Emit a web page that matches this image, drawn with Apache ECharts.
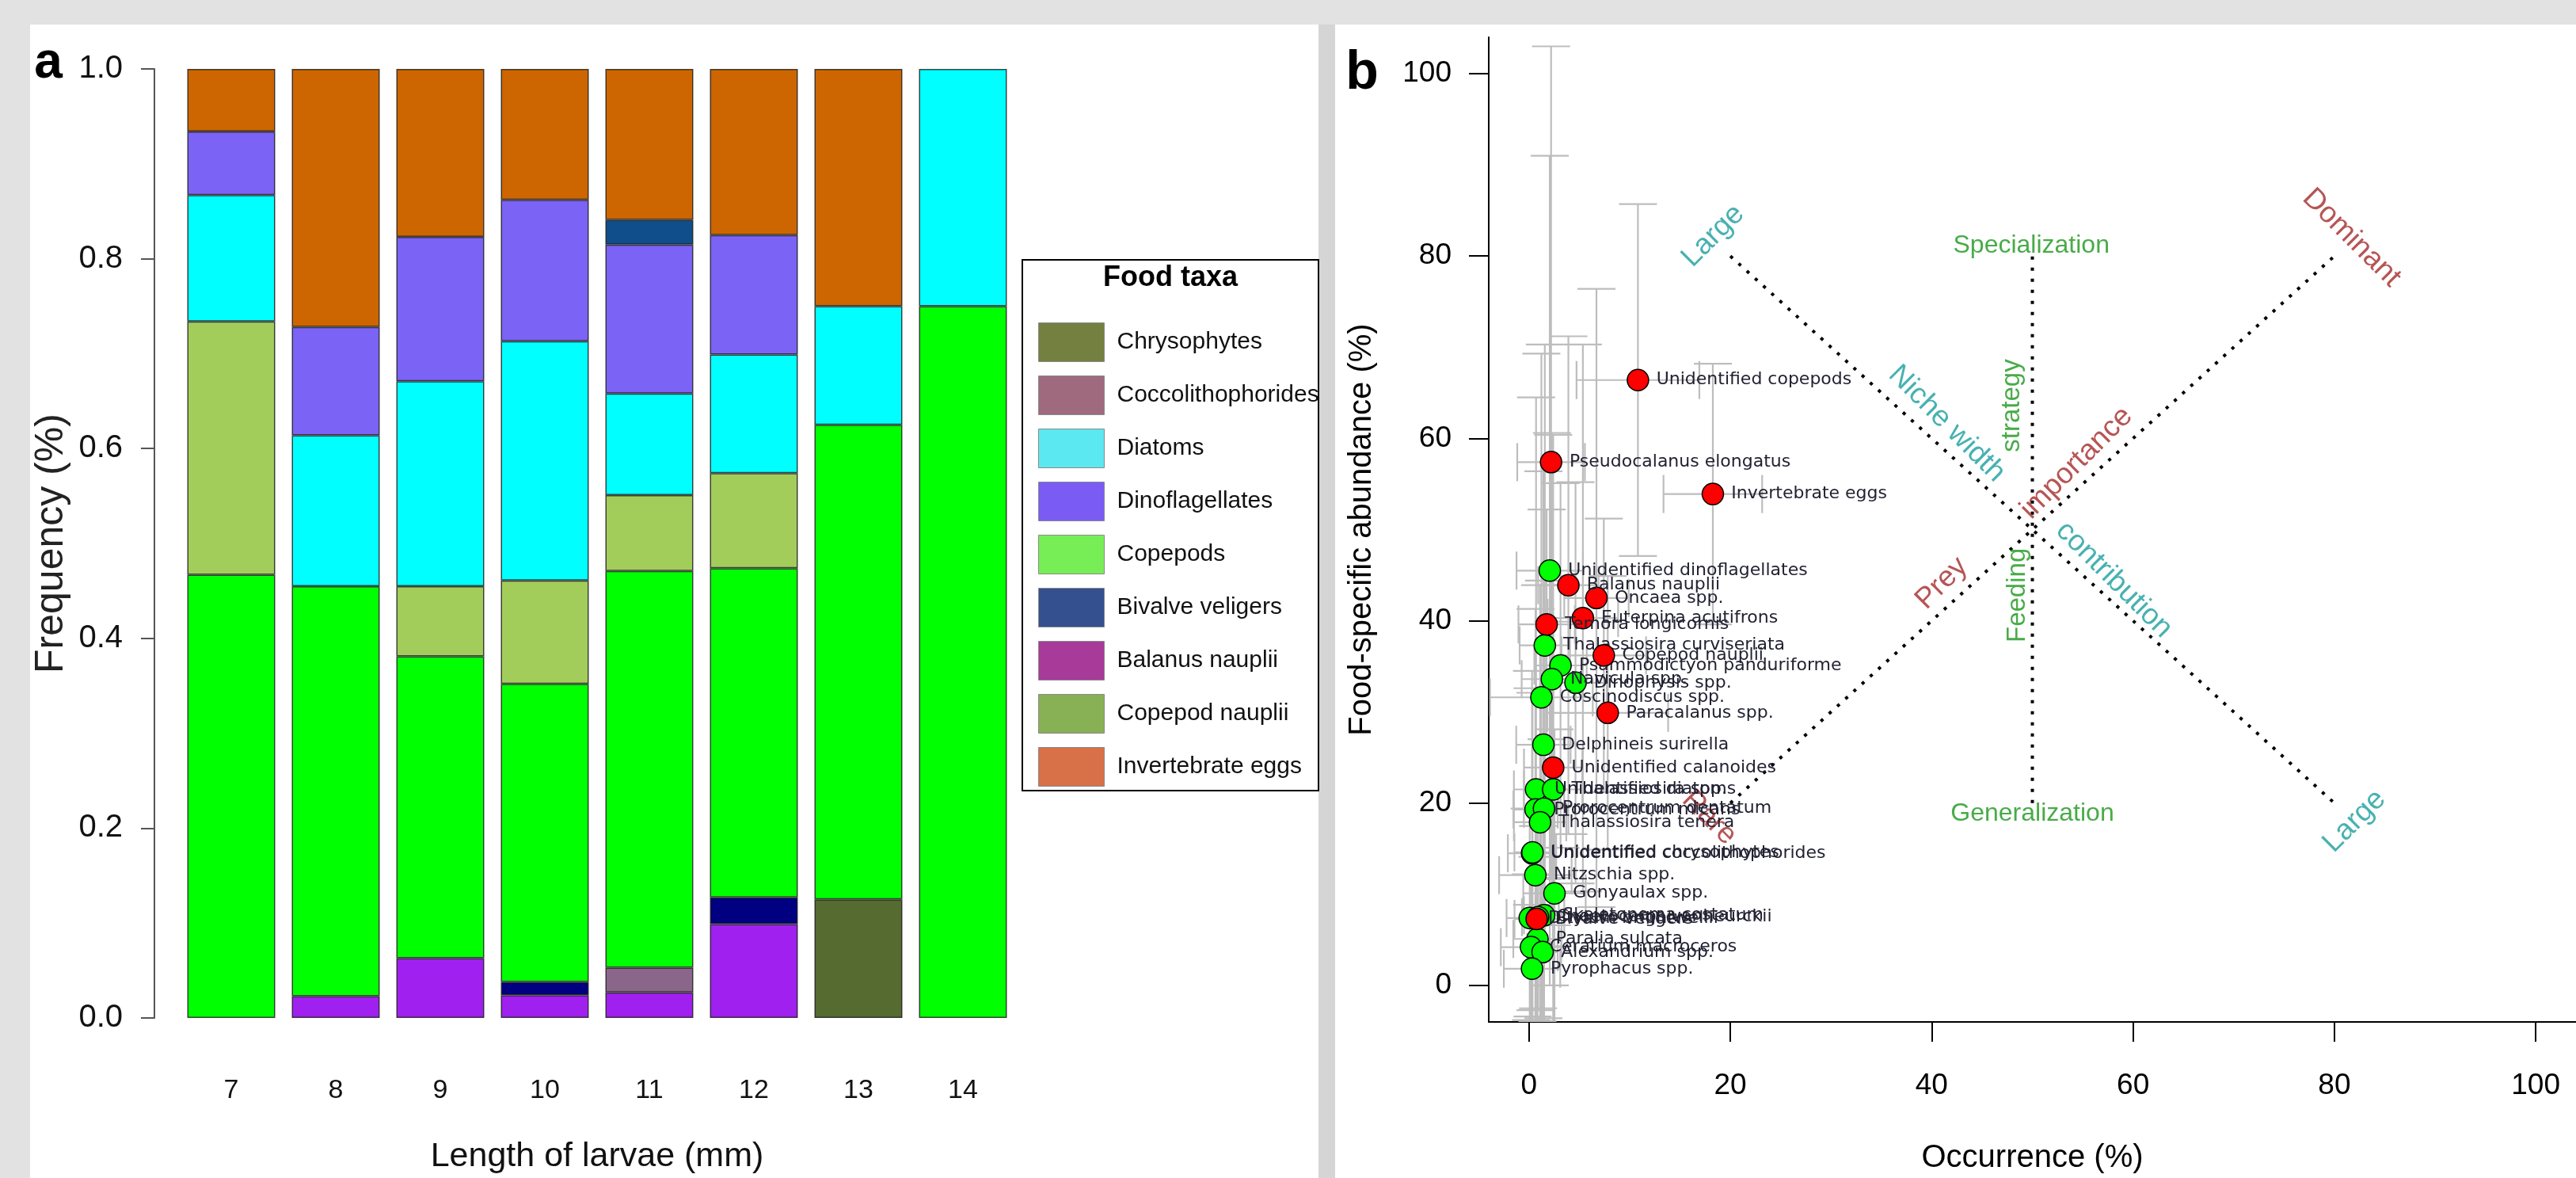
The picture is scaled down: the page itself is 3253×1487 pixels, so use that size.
<!DOCTYPE html>
<html>
<head>
<meta charset="utf-8">
<title>Larval diet</title>
<script src="https://cdn.jsdelivr.net/npm/echarts/dist/echarts.min.js"></script>
<style>
  html, body { margin: 0; padding: 0; background: #e2e2e2; }
  #page { position: relative; width: 3253px; height: 1487px; overflow: hidden; }
  .panel { position: absolute; background: #fff; }
  #chart { position: absolute; left: 0; top: 0; width: 3253px; height: 1487px; }
</style>
</head>
<body>
<div id="page">
  <div class="panel" style="left:38px;top:31px;width:1627px;height:1456px"></div>
  <div style="position:absolute;left:1665px;top:31px;width:21px;height:1456px;background:#d5d5d5"></div>
  <div class="panel" style="left:1686px;top:31px;width:1567px;height:1456px"></div>
  <div id="chart"></div>
</div>
<script>
// ---- panel a : diet frequency by larval length (stacked from the bottom up)
const lengths = ['7', '8', '9', '10', '11', '12', '13', '14']
const balanusNauplii = [0, 0.023, 0.063, 0.024, 0.027, 0.099, 0, 0]
const chrysophytes = [0, 0, 0, 0, 0, 0, 0.125, 0]
const coccolithophorides = [0, 0, 0, 0, 0.026, 0, 0, 0]
const bivalveVeligers = [0, 0, 0, 0.014, 0, 0.028, 0, 0]
const copepods = [0.467, 0.432, 0.318, 0.314, 0.418, 0.347, 0.5, 0.75]
const copepodNauplii = [0.267, 0, 0.074, 0.109, 0.080, 0.100, 0, 0]
const diatoms = [0.133, 0.159, 0.216, 0.252, 0.107, 0.125, 0.125, 0.25]
const dinoflagellates = [0.067, 0.114, 0.152, 0.149, 0.157, 0.126, 0, 0]
const otherPrey = [0, 0, 0, 0, 0.026, 0, 0, 0]
const invertebrateEggs = [0.066, 0.272, 0.177, 0.138, 0.159, 0.175, 0.25, 0]

const legendNames = ['Chrysophytes', 'Coccolithophorides', 'Diatoms', 'Dinoflagellates', 'Copepods',
  'Bivalve veligers', 'Balanus nauplii', 'Copepod nauplii', 'Invertebrate eggs']

// ---- panel b : Costello plot (occurrence vs food-specific abundance, with error ranges)
const phytoNames = ['Unidentified dinoflagellates', 'Thalassiosira curviseriata', 'Psammodictyon panduriforme',
  'Navicula spp.', 'Dinophysis spp.', 'Coscinodiscus spp.', 'Delphineis surirella', 'Unidentified diatoms',
  'Thalassiosira spp.', 'Prorocentrum micans', 'Prorocentrum dentatum', 'Thalassiosira tenera',
  'Unidentified coccolithophorides', 'Unidentified chrysophytes', 'Nitzschia spp.', 'Gonyaulax spp.',
  'Ditylum brightwellii', 'Skeletonema costatum', 'Chaetoceros vanheurckii', 'Paralia sulcata',
  'Ceratium macroceros', 'Alexandrium spp.', 'Pyrophacus spp.']
const phytoOcc = [2.06, 1.57, 3.13, 2.27, 4.62, 1.23, 1.43, 0.7, 2.4, 0.65, 1.49, 1.1, 0.3, 0.35, 0.63, 2.53,
  0.07, 1.5, 0.9, 0.84, 0.2, 1.35, 0.3]
const phytoAbund = [45.5, 37.3, 35.1, 33.6, 33.2, 31.6, 26.4, 21.5, 21.5, 19.3, 19.4, 17.9, 14.5, 14.6, 12.1, 10.1,
  7.4, 7.7, 7.5, 5.1, 4.2, 3.66, 1.84]
const phytoOccErr = [3.3, 2.5, 2.6, 3.0, 3.1, 5.1, 2.7, 2.2, 2.9, 2.2, 2.0, 2.6, 2.4, 1.8, 3.6, 3.1,
  2.3, 2.0, 1.6, 2.4, 3.0, 1.5, 2.8]
const phytoAbundErr = [45.5, 33, 20, 27, 22, 37.7, 30, 43, 38.9, 22, 25, 26, 20, 18, 20, 18,
  12, 14, 10, 9, 8, 8, 7]

const preyNames = ['Unidentified copepods', 'Pseudocalanus elongatus', 'Invertebrate eggs', 'Balanus nauplii',
  'Oncaea spp.', 'Euterpina acutifrons', 'Temora longicornis', 'Copepod nauplii', 'Paracalanus spp.',
  'Unidentified calanoides', 'Bivalve veligers']
const preyOcc = [10.82, 2.19, 18.26, 3.91, 6.7, 5.35, 1.75, 7.43, 7.82, 2.4, 0.76]
const preyAbund = [66.4, 57.4, 53.9, 43.9, 42.5, 40.3, 39.6, 36.2, 29.9, 23.9, 7.3]
const preyOccErr = [6.1, 3.36, 4.9, 3.0, 3.2, 3.5, 2.8, 4.2, 6.0, 2.9, 2.2]
const preyAbundErr = [19.3, 45.6, 14.3, 27.3, 33.9, 30, 12.6, 15, 15, 16, 12]

// interpretation axes of the Costello diagram
const guideSegments = [
  [[20, 80], [80, 20]],
  [[20, 20], [80, 80]],
  [[50, 20], [50, 80]]
]
const noteTexts = ['Large', 'Specialization', 'Dominant', 'Niche width', 'strategy', 'importance',
  'Prey', 'Feeding', 'contribution', 'Generalization', 'Large', 'Rare']
const noteX = [18.3, 49.9, 81.7, 41.5, 48.0, 54.4, 41.0, 48.5, 58.1, 50.0, 82.0, 17.9]
const noteY = [82.2, 81.1, 82.0, 61.6, 63.6, 57.3, 44.1, 42.8, 44.5, 18.8, 18.0, 18.4]

// ---- styles
const sans = 'Arial, "Liberation Sans", sans-serif'
const labelFont = '"DejaVu Sans", Verdana, sans-serif'
const barColors = {
  'Balanus nauplii': '#a020f0',
  'Chrysophytes': '#556b2f',
  'Coccolithophorides': '#8b668b',
  'Bivalve veligers': '#000080',
  'Copepods': '#00ff00',
  'Copepod nauplii': '#a2cd5a',
  'Diatoms': '#00ffff',
  'Dinoflagellates': '#7b63f5',
  'Other prey': '#104e8b',
  'Invertebrate eggs': '#cd6600'
}
const legendColors = {
  'Chrysophytes': '#738040',
  'Coccolithophorides': '#a06a7e',
  'Diatoms': '#5ce8f0',
  'Dinoflagellates': '#7a5cf5',
  'Copepods': '#77ee55',
  'Bivalve veligers': '#34508f',
  'Balanus nauplii': '#a83a9a',
  'Copepod nauplii': '#88b055',
  'Invertebrate eggs': '#d87048'
}
const teal = '#1a9e9e'
const green = '#1a961a'
const brown = '#a52a2a'
const noteColors = [teal, green, brown, teal, green, brown, brown, green, teal, green, teal, brown]
const noteAngles = [45, 0, -45, -45, 90, 45, 45, 90, -45, 0, 45, -45]
const noteSizes = [37, 32, 37, 37, 33, 37, 37, 33, 37, 32, 37, 37]

const barLayers = [
  ['Balanus nauplii', balanusNauplii],
  ['Chrysophytes', chrysophytes],
  ['Coccolithophorides', coccolithophorides],
  ['Bivalve veligers', bivalveVeligers],
  ['Copepods', copepods],
  ['Copepod nauplii', copepodNauplii],
  ['Diatoms', diatoms],
  ['Dinoflagellates', dinoflagellates],
  ['Other prey', otherPrey],
  ['Invertebrate eggs', invertebrateEggs]
]

const chart = echarts.init(document.getElementById('chart'))

const barSeries = barLayers.map(([name, vals]) => ({
  name: name,
  type: 'bar',
  stack: 'diet',
  xAxisIndex: 0,
  yAxisIndex: 0,
  barWidth: 111,
  data: vals.map(v => (v === 0 ? '-' : v)),
  itemStyle: { color: barColors[name], borderColor: 'rgba(25,25,25,0.8)', borderWidth: 1.5 },
  emphasis: { disabled: true }
}))

const errData = []
phytoNames.forEach((n, i) => errData.push([phytoOcc[i], phytoAbund[i], phytoOccErr[i], phytoAbundErr[i]]))
preyNames.forEach((n, i) => errData.push([preyOcc[i], preyAbund[i], preyOccErr[i], preyAbundErr[i]]))

const errorSeries = {
  type: 'custom',
  xAxisIndex: 1,
  yAxisIndex: 1,
  clip: true,
  silent: true,
  z: 1,
  encode: { x: 0, y: 1 },
  data: errData,
  renderItem (params, api) {
    const x = api.value(0)
    const y = api.value(1)
    const xe = api.value(2)
    const ye = api.value(3)
    const top = api.coord([x, y + ye])
    const bot = api.coord([x, y - ye])
    const lft = api.coord([x - xe, y])
    const rgt = api.coord([x + xe, y])
    const h = 24
    const style = { stroke: '#bdbdbd', lineWidth: 2.2 }
    const seg = (x1, y1, x2, y2) => ({ type: 'line', shape: { x1, y1, x2, y2 }, style })
    return {
      type: 'group',
      children: [
        seg(top[0], top[1], bot[0], bot[1]),
        seg(top[0] - h, top[1], top[0] + h, top[1]),
        seg(bot[0] - h, bot[1], bot[0] + h, bot[1]),
        seg(lft[0], lft[1], rgt[0], rgt[1]),
        seg(lft[0], lft[1] - h, lft[0], lft[1] + h),
        seg(rgt[0], rgt[1] - h, rgt[0], rgt[1] + h)
      ]
    }
  }
}

const pointLabel = {
  show: true,
  position: 'right',
  distance: 9,
  formatter: '{b}',
  fontFamily: labelFont,
  fontSize: 22,
  color: '#222233'
}

const phytoSeries = {
  name: 'Phytoplankton',
  type: 'scatter',
  xAxisIndex: 1,
  yAxisIndex: 1,
  symbol: 'circle',
  symbolSize: 27,
  z: 3,
  data: phytoNames.map((n, i) => ({ name: n, value: [phytoOcc[i], phytoAbund[i]] })),
  itemStyle: { color: '#00ff00', borderColor: '#000', borderWidth: 1.5, opacity: 1 },
  label: pointLabel,
  emphasis: { disabled: true }
}

const preySeries = {
  name: 'Zooplankton',
  type: 'scatter',
  xAxisIndex: 1,
  yAxisIndex: 1,
  symbol: 'circle',
  symbolSize: 27,
  z: 4,
  data: preyNames.map((n, i) => ({ name: n, value: [preyOcc[i], preyAbund[i]] })),
  itemStyle: { color: '#ff0000', borderColor: '#000', borderWidth: 1.5, opacity: 1 },
  label: pointLabel,
  emphasis: { disabled: true }
}

const guideSeries = guideSegments.map(seg => ({
  type: 'line',
  xAxisIndex: 1,
  yAxisIndex: 1,
  data: seg,
  symbol: 'none',
  silent: true,
  z: 2,
  lineStyle: { color: '#000', width: 4, type: [4, 10] }
}))

// labels of the interpretation axes, placed at data positions
const noteSeries = {
  type: 'scatter',
  xAxisIndex: 1,
  yAxisIndex: 1,
  symbol: 'circle',
  symbolSize: 2,
  silent: true,
  z: 2,
  itemStyle: { color: 'rgba(255,255,255,0)' },
  data: noteTexts.map((t, i) => ({
    name: t,
    value: [noteX[i], noteY[i]],
    label: {
      show: true,
      position: 'inside',
      rotate: noteAngles[i],
      color: noteColors[i],
      fontSize: noteSizes[i],
      fontFamily: sans
    }
  })),
  label: { show: true, position: 'inside', formatter: '{b}', fontFamily: sans },
  labelLayout: { hideOverlap: false }
}

const bTicks = [0, 20, 40, 60, 80, 100]

const option = {
  animation: false,
  grid: [
    { left: 226, top: 87, width: 1056, height: 1201 },
    { left: 1880, top: 47, width: 1380, height: 1248 }
  ],
  legend: {
    orient: 'vertical',
    left: 1306,
    top: 402,
    itemWidth: 83,
    itemHeight: 49,
    itemGap: 17,
    icon: 'rect',
    selectedMode: false,
    data: legendNames.map(n => ({
      name: n,
      itemStyle: { color: legendColors[n], borderColor: '#8a8a8a', borderWidth: 1 }
    })),
    textStyle: { fontSize: 30, color: '#111', fontFamily: sans, padding: [0, 0, 0, 11] }
  },
  xAxis: [
    {
      type: 'category',
      gridIndex: 0,
      data: lengths,
      axisLine: { show: false },
      axisTick: { show: false },
      axisLabel: { fontSize: 34, color: '#111', margin: 75, fontFamily: sans },
      name: 'Length of larvae (mm)',
      nameLocation: 'middle',
      nameGap: 154,
      nameTextStyle: { fontSize: 43, color: '#111', fontFamily: sans }
    },
    {
      type: 'value',
      gridIndex: 1,
      min: -4,
      max: 104,
      axisLine: { show: true, onZero: false, lineStyle: { color: '#000', width: 2 } },
      axisTick: { show: true, length: 25, customValues: bTicks, lineStyle: { color: '#000', width: 2 } },
      axisLabel: { customValues: bTicks, fontSize: 37, color: '#000', margin: 62, fontFamily: sans },
      splitLine: { show: false },
      name: 'Occurrence (%)',
      nameLocation: 'middle',
      nameGap: 152,
      nameTextStyle: { fontSize: 40, color: '#000', fontFamily: sans }
    }
  ],
  yAxis: [
    {
      type: 'value',
      gridIndex: 0,
      min: 0,
      max: 1,
      interval: 0.2,
      offset: 31,
      axisLine: { show: true, lineStyle: { color: '#555', width: 2 } },
      axisTick: { show: true, length: 17, lineStyle: { color: '#555', width: 2 } },
      axisLabel: { fontSize: 40, color: '#111', margin: 40, fontFamily: sans, formatter: v => v.toFixed(1) },
      splitLine: { show: false },
      name: 'Frequency (%)',
      nameLocation: 'middle',
      nameRotate: 90,
      nameGap: 105,
      nameTextStyle: { fontSize: 50, color: '#222', fontFamily: sans }
    },
    {
      type: 'value',
      gridIndex: 1,
      min: -4,
      max: 104,
      axisLine: { show: true, onZero: false, lineStyle: { color: '#000', width: 2 } },
      axisTick: { show: true, length: 25, customValues: bTicks, lineStyle: { color: '#000', width: 2 } },
      axisLabel: { customValues: bTicks, fontSize: 37, color: '#000', margin: 47, fontFamily: sans },
      splitLine: { show: false },
      name: 'Food-specific abundance (%)',
      nameLocation: 'middle',
      nameRotate: 90,
      nameGap: 140,
      nameTextStyle: { fontSize: 40, color: '#000', fontFamily: sans }
    }
  ],
  graphic: [
    {
      type: 'rect',
      z: -1,
      silent: true,
      shape: { x: 1291, y: 328, width: 374, height: 670 },
      style: { fill: '#fff', stroke: '#000', lineWidth: 2 }
    },
    {
      type: 'text',
      x: 1478,
      y: 351,
      silent: true,
      style: { text: 'Food taxa', font: 'bold 36px ' + sans, fill: '#000', align: 'center', verticalAlign: 'middle' }
    },
    {
      type: 'text',
      x: 61,
      y: 80,
      silent: true,
      style: { text: 'a', font: 'bold 64px ' + sans, fill: '#000', align: 'center', verticalAlign: 'middle' }
    },
    {
      type: 'text',
      x: 1720,
      y: 93,
      silent: true,
      style: { text: 'b', font: 'bold 68px ' + sans, fill: '#000', align: 'center', verticalAlign: 'middle' }
    }
  ],
  series: [
    ...barSeries,
    errorSeries,
    ...guideSeries,
    noteSeries,
    phytoSeries,
    preySeries
  ]
}

chart.setOption(option)
</script>
</body>
</html>
